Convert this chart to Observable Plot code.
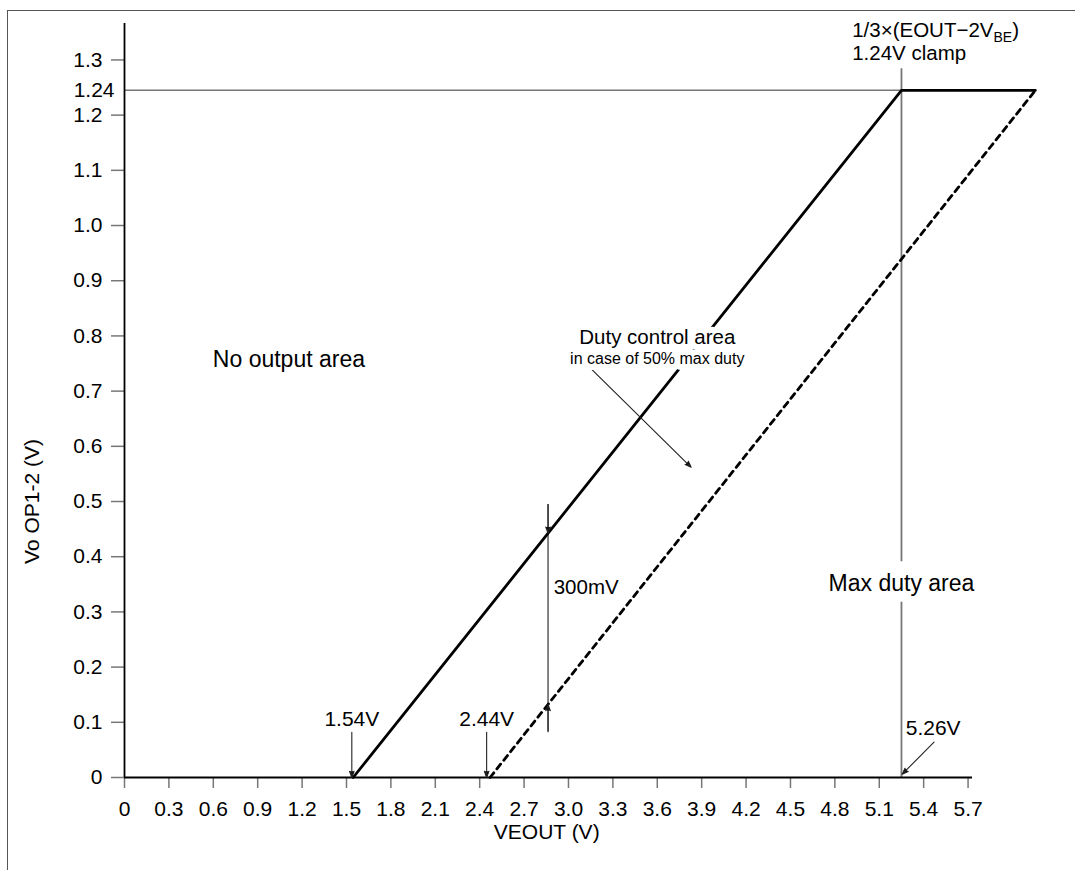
<!DOCTYPE html>
<html>
<head>
<meta charset="utf-8">
<script src="https://cdn.jsdelivr.net/npm/d3@7"></script>
<script src="https://cdn.jsdelivr.net/npm/@observablehq/plot@0.6"></script>
<style>
  html, body { margin: 0; padding: 0; background: #fff; overflow: hidden; }
  #wrap { position: relative; width: 1075px; height: 870px; }
  #frame { position: absolute; left: 7px; top: 10px; right: -2px; bottom: -2px;
           border-top: 1.5px solid #555; border-left: 1.5px solid #555; pointer-events: none; }
  svg { display: block; }
</style>
</head>
<body>
<div id="wrap"><div id="frame"></div></div>
<script>
// ---- data ----
const xTicks = [0, 0.3, 0.6, 0.9, 1.2, 1.5, 1.8, 2.1, 2.4, 2.7, 3.0, 3.3, 3.6, 3.9, 4.2, 4.5, 4.8, 5.1, 5.4, 5.7];
const yTicks = [0, 0.1, 0.2, 0.3, 0.4, 0.5, 0.6, 0.7, 0.8, 0.9, 1.0, 1.1, 1.2, 1.3];
const X_MAX = 5.73;
const Y_MAX = 1.366;

// solid characteristic (1.54V start, 1.24V clamp)
const solidX = [1.545, 5.25, 6.155];
const solidY = [0, 1.245, 1.245];
// dashed characteristic (2.44V start)
const dashedX = [2.47, 6.155];
const dashedY = [0, 1.245];

const clampLevel = 1.245;    // 1.24 V clamp line
const clampX = 5.25;         // 5.26 V max-duty boundary
const maxDutySegments = [[1.284, 0.391], [0.3176, 0]]; // vertical line, broken by label
const mvX = 2.862;           // 300mV marker
const mvRange = [0.083, 0.4946];
const mvTips = [0.4426, 0.1324];

const arrows = [
  {x1: 1.536, y1: 0.082, x2: 1.536, y2: 0},      // 1.54V
  {x1: 2.447, y1: 0.082, x2: 2.447, y2: 0},      // 2.44V
  {x1: 5.470, y1: 0.064, x2: 5.255, y2: 0.006},  // 5.26V
  {x1: 3.143, y1: 0.743, x2: 3.829, y2: 0.562},  // duty control area
  {x1: mvX, y1: mvRange[1], x2: mvX, y2: mvTips[0]},
  {x1: mvX, y1: mvRange[0], x2: mvX, y2: mvTips[1]}
];

const centeredLabels = [
  {x: 1.536, y: 0.105, text: "1.54V", size: 21},
  {x: 2.447, y: 0.105, text: "2.44V", size: 21},
  {x: 5.464, y: 0.0888, text: "5.26V", size: 21},
  {x: 5.25, y: 0.3514, text: "Max duty area", size: 23},
  {x: 1.111, y: 0.757, text: "No output area", size: 23}
];
const dutyLabels = [
  {x: 3.60, y: 0.797, text: "Duty control area", size: 20.5},
  {x: 3.60, y: 0.759, text: "in case of 50% max duty", size: 16}
];
const leftLabels = [
  {x: 2.90, y: 0.344, text: "300mV", size: 20.5},
  {x: 4.917, y: 1.353, text: "1/3×(EOUT−2VBE)", size: 20.5},
  {x: 4.917, y: 1.312, text: "1.24V clamp", size: 20.5}
];

const fmt = d => d === 0 ? "0" : d.toFixed(1);
const pts = (xs, ys) => xs.map((x, i) => ({x, y: ys[i]}));

const svg = Plot.plot({
  width: 1075,
  height: 870,
  marginLeft: 124,
  marginRight: 103,
  marginTop: 23,
  marginBottom: 93,
  style: {fontFamily: "'Liberation Sans', Arial, Helvetica, sans-serif", fontSize: "21px", color: "#000", background: "transparent", overflow: "visible"},
  x: {domain: [0, X_MAX], label: null},
  y: {domain: [0, Y_MAX], label: null},
  marks: [
    // axes
    Plot.axisX(xTicks, {tickSize: 11, tickPadding: 13, stroke: "#777", strokeWidth: 1.5, tickFormat: fmt, fill: "#000", fontSize: 21, label: null}),
    Plot.axisY(yTicks, {tickSize: 13, tickPadding: 9, stroke: "#777", strokeWidth: 1.5, tickFormat: fmt, fill: "#000", fontSize: 21, label: null}),
    Plot.text([clampLevel], {x: 0, y: d => d, text: () => "1.24", textAnchor: "end", dx: -10, fontSize: 21, fill: "#000"}),
    // clamp level line and max duty line
    Plot.ruleY([clampLevel], {x1: 0, x2: clampX, stroke: "#777", strokeWidth: 1.5}),
    Plot.ruleX(maxDutySegments, {x: clampX, y1: d => d[0], y2: d => d[1], stroke: "#777", strokeWidth: 1.8}),
    Plot.ruleX([mvRange], {x: mvX, y1: d => d[0], y2: d => d[1], stroke: "#777", strokeWidth: 1.8}),
    // axis lines
    Plot.ruleY([0], {x1: 0, x2: X_MAX, stroke: "#000", strokeWidth: 1.8}),
    Plot.ruleX([0], {y1: 0, y2: Y_MAX, stroke: "#000", strokeWidth: 1.8}),
    // characteristics
    Plot.line(pts(solidX, solidY), {x: "x", y: "y", stroke: "#000", strokeWidth: 2.8, strokeLinejoin: "miter"}),
    Plot.line(pts(dashedX, dashedY), {x: "x", y: "y", stroke: "#000", strokeWidth: 2.8, strokeDasharray: "6,5"}),
    // arrows
    Plot.arrow(arrows, {x1: "x1", y1: "y1", x2: "x2", y2: "y2", stroke: "#222", fill: "#000", strokeWidth: 1.1, headLength: 9, headAngle: 40}),
    // labels
    Plot.text(centeredLabels, {x: "x", y: "y", text: "text", fontSize: "size", fill: "#000"}),
    Plot.text(dutyLabels, {x: "x", y: "y", text: "text", fontSize: "size", fill: "#000", stroke: "#fff", strokeWidth: 12, paintOrder: "stroke", strokeLinejoin: "round"}),
    Plot.text(leftLabels, {x: "x", y: "y", text: "text", fontSize: "size", textAnchor: "start", fill: "#000"}),
    Plot.text(["VEOUT (V)"], {x: 2.853, y: -0.0996, text: d => d, fontSize: 21, fill: "#000"}),
    Plot.text(["Vo OP1-2 (V)"], {x: -0.62, y: 0.50, text: d => d, fontSize: 21, rotate: -90, fill: "#000"})
  ]
});

// subscript for V_BE
d3.select(svg).selectAll("text").filter(function() { return this.textContent === "1/3×(EOUT−2VBE)"; })
  .each(function() {
    const t = d3.select(this);
    t.text(null);
    t.append("tspan").text("1/3×(EOUT−2V");
    t.append("tspan").attr("dy", 5).attr("font-size", 14).text("BE");
    t.append("tspan").attr("dy", -5).text(")");
  });

document.getElementById("wrap").prepend(svg);
</script>
</body>
</html>
